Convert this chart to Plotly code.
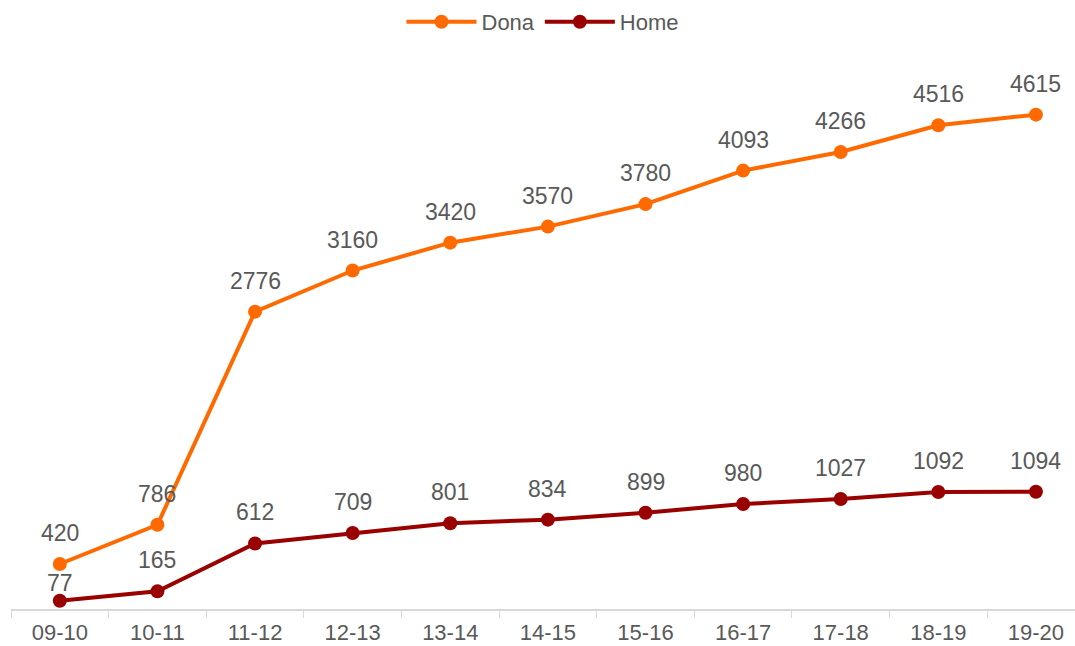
import plotly.graph_objects as go

categories = ["09-10", "10-11", "11-12", "12-13", "13-14", "14-15", "15-16", "16-17", "17-18", "18-19", "19-20"]
dona = [420, 786, 2776, 3160, 3420, 3570, 3780, 4093, 4266, 4516, 4615]
home = [77, 165, 612, 709, 801, 834, 899, 980, 1027, 1092, 1094]

DONA_COLOR = "#FF6A00"
HOME_COLOR = "#990000"
TEXT_COLOR = "#595959"
FONT = "Liberation Sans, Arial, sans-serif"

fig = go.Figure()
fig.add_trace(go.Scatter(x=categories, y=dona, name="Dona", mode="lines+markers",
                         line=dict(color=DONA_COLOR, width=4),
                         marker=dict(color=DONA_COLOR, size=14)))
fig.add_trace(go.Scatter(x=categories, y=home, name="Home", mode="lines+markers",
                         line=dict(color=HOME_COLOR, width=4),
                         marker=dict(color=HOME_COLOR, size=14)))

annotations = []
for c, v in zip(categories, dona):
    annotations.append(dict(x=c, y=v, text=str(v), showarrow=False, yshift=31,
                            font=dict(size=23, color=TEXT_COLOR, family=FONT)))
for i, (c, v) in enumerate(zip(categories, home)):
    annotations.append(dict(x=c, y=v, text=str(v), showarrow=False, yshift=(18 if i == 0 else 31),
                            font=dict(size=23, color=TEXT_COLOR, family=FONT)))

fig.update_layout(
    width=1075, height=646,
    paper_bgcolor="white", plot_bgcolor="white",
    margin=dict(l=11, r=0, t=52, b=37),
    font=dict(family=FONT, size=22, color=TEXT_COLOR),
    showlegend=True,
    legend=dict(orientation="h", x=0.5, xanchor="center", y=1.054, yanchor="middle",
                font=dict(size=22, color=TEXT_COLOR), itemwidth=70),
    annotations=annotations,
    xaxis=dict(type="category", range=[-0.5, 10.4], showline=True, linecolor="#d9d9d9", linewidth=1.5,
               ticks="outside", tickson="boundaries", ticklen=7, tickcolor="#d9d9d9",
               ticklabelstandoff=3, automargin=False,
               showgrid=False, zeroline=False, tickfont=dict(size=22, color=TEXT_COLOR)),
    yaxis=dict(range=[0, 5200], showticklabels=False, showgrid=False, zeroline=False, showline=False,
               automargin=False),
)

fig.write_html("out.html", config={"displayModeBar": False},
               post_script="document.body.style.margin='0';document.body.style.overflow='hidden';")
